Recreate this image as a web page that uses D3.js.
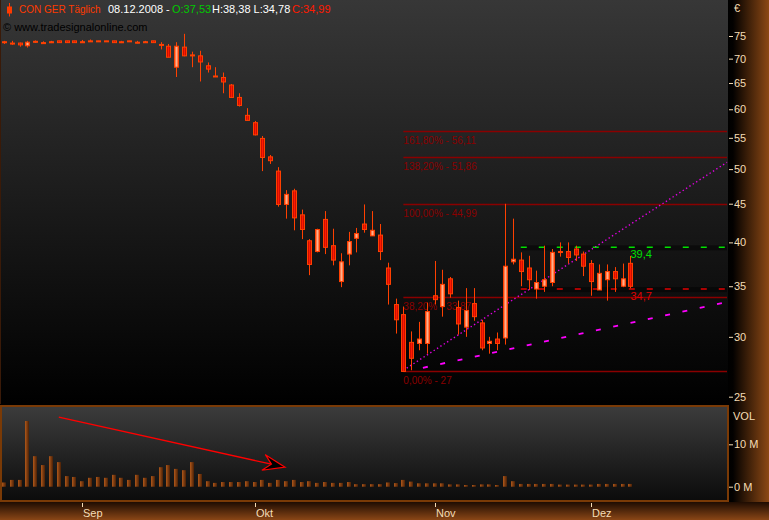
<!DOCTYPE html>
<html><head><meta charset="utf-8">
<script src="https://cdn.jsdelivr.net/npm/d3@7"></script>
<style>
html,body{margin:0;padding:0;background:#000;overflow:hidden}
svg{display:block}
text{font-family:"Liberation Sans",Arial,sans-serif}
</style>
</head><body>
<svg id="c" width="769" height="520"></svg>
<script>
// ---------------- DATA ----------------
const title = "CON GER Täglich";
const lastDate = "08.12.2008";
const open  = [73.7,73.4,73.4,72.8,73.7,73.5,73.6,73.9,73.9,73.9, 73.7,73.9,73.9,73.9,73.9,73.7,73.9,73.6,73.7,73.9,
               73.1,72.7,68.2,72.5,70.8,70.6,68.5,66.4,66.1,64.6, 62.2,58.9,57.6,54.9,51.9,49.7,44.9,46.8,43.5,40.2,
               38.9,42.9,39.6,35.5,38.6,40.5,42.3,40.8,40.9,37.0, 33.1,32.1,29.5,29.4,29.4,34.0,32.9,35.8,32.8,30.9,
               33.2,31.3,29.4,29.8,29.9,37.7,37.9,37.0,34.7,35.0, 35.4,38.8,38.9,39.2,38.6,37.5,34.6,35.7,36.6,35.0, 37.53];
const high  = [73.9,73.9,73.5,73.9,74.0,73.8,73.9,73.9,73.9,73.9, 74.1,74.2,73.9,73.9,73.9,73.9,73.9,73.9,73.9,73.9,
               73.6,73.2,73.6,75.5,71.5,71.7,69.2,68.2,67.1,64.8, 63.0,60.2,57.9,55.3,52.2,50.3,46.9,47.1,44.2,40.4,
               41.7,44.0,41.7,38.7,41.3,41.8,44.9,44.0,42.3,37.6, 33.7,32.9,30.5,31.4,33.3,37.8,36.8,36.0,33.5,34.8,
               34.8,31.6,30.0,30.4,44.99,43.0,38.8,38.4,36.7,39.6, 39.2,40.0,40.0,39.6,38.9,37.9,37.4,37.4,37.1,37.5, 38.38];
const low   = [73.2,73.0,72.6,72.4,73.5,73.3,73.4,73.5,73.5,73.5, 73.5,73.8,73.8,73.8,73.5,73.4,73.8,73.4,73.5,73.5,
               72.0,70.3,66.2,70.5,68.2,65.3,67.1,66.3,63.0,62.1, 60.5,58.0,55.4,49.7,50.8,44.6,43.0,41.5,40.4,36.2,
               38.8,38.6,37.3,34.9,37.3,38.8,41.2,40.8,37.9,33.1, 30.3,27.0,27.1,28.8,28.5,33.1,31.9,33.8,30.2,30.0,
               31.5,28.8,28.5,28.8,29.3,37.4,35.0,34.6,33.7,34.4, 35.0,38.3,37.5,37.8,36.1,34.0,34.6,33.5,34.4,34.9, 34.78];
const close = [73.6,73.3,73.0,73.6,73.8,73.5,73.7,73.5,73.5,73.5, 73.7,73.8,73.8,73.8,73.5,73.6,73.8,73.6,73.7,73.5,
               73.0,70.3,72.7,70.6,70.8,69.3,67.8,66.3,65.2,62.2, 60.7,58.0,55.5,51.8,51.3,44.9,46.3,43.1,41.6,37.4,
               41.6,39.4,37.9,37.7,40.1,41.1,41.6,41.5,38.9,35.2, 31.6,27.0,28.1,29.8,32.4,33.6,35.2,34.2,31.2,32.5,
               31.9,29.0,29.6,29.4,37.2,38.0,36.6,35.7,35.4,35.7, 38.8,38.9,38.2,38.5,37.2,35.5,36.4,36.6,35.8,35.8, 34.99];
// volume in millions
const volume = [1.0,1.6,1.6,15.5,7.2,5.1,7.2,5.8,2.5,2.3, 1.3,2.1,2.3,2.1,2.8,2.1,1.6,2.8,2.1,2.5,
                4.6,5.1,4.2,3.9,5.8,3.0,1.3,0.9,1.1,1.1, 1.1,1.3,1.1,1.6,0.9,1.6,1.3,1.6,1.1,1.3,
                0.9,1.1,0.9,0.9,1.1,0.6,0.6,0.6,0.6,1.0, 0.85,1.6,1.2,0.8,0.8,0.8,0.8,0.55,0.55,0.4,
                0.4,0.55,0.55,0.4,2.5,1.3,0.65,0.65,0.65,0.65, 0.65,0.5,0.5,0.5,0.5,0.5,0.65,0.65,0.65,0.65, 0.65];
const monthLabels = ["Sep","Okt","Nov","Dez"];
const monthStartIdx = [10,32,55,75];
const priceTicks = [25,30,35,40,45,50,55,60,65,70,75];
const volTicks = [0,10];
const volTickLabels = ["0 M","10 M"];
// Fibonacci retracement (from low bar 51 to high 44.99)
const fibPct = ["0,00%","38,20%","100,00%","138,20%","161,80%"];
const fibVal = [27, 33.87, 44.99, 51.86, 56.11];
const fibValLabel = ["27","33,87","44,99","51,86","56,11"];
const fibStartIdx = 51;
// horizontal levels
const levelVal = [39.4, 34.7];
const levelLabel = ["39,4","34,7"];
const levelStartIdx = 66;
// trend lines [index, price]
const dottedTrend = [[51, 27.1],[80, 42.26]];
const dashedTrend = [[53.5, 27.3],[80, 31.3]];
// volume arrow [index, volume M]
const volArrow = [[7.0, 16.4],[35.9, 4.6]];

// ---------------- LAYOUT ----------------
const W = 769, H = 520;
const plotRight = 727;
const svg = d3.select("#c");
const defs = svg.append("defs");
function lin(id, x1,y1,x2,y2, stops){
  const g = defs.append("linearGradient").attr("id",id)
    .attr("x1",x1).attr("y1",y1).attr("x2",x2).attr("y2",y2);
  stops.forEach(s=>g.append("stop").attr("offset",s[0]).attr("stop-color",s[1]));
}
lin("gMain",0,0,0,1,[[0,"#373737"],[0.55,"#181818"],[1,"#000"]]);
lin("gVol",0,0,0,1,[[0,"#3c3c3c"],[1,"#0b0b0b"]]);
lin("gAxis",0,0,1,0,[[0,"#000"],[0.12,"#030100"],[1,"#8c4814"]]);
lin("gBottom",0,0,0,1,[[0,"#1e0c02"],[1,"#8a4616"]]);
lin("gBear",0,0,1,0,[[0,"#a00000"],[0.5,"#ff1a00"],[1,"#a00000"]]);
lin("gBull",0,0,1,0,[[0,"#ff4a18"],[0.5,"#ffb08a"],[1,"#ff4a18"]]);
lin("gVbar",0,0,1,0,[[0,"#b0581a"],[1,"#4a2006"]]);

svg.append("rect").attr("width",W).attr("height",H).attr("fill","#000");
svg.append("rect").attr("x",0).attr("y",0).attr("width",728).attr("height",404).attr("fill","url(#gMain)");
svg.append("rect").attr("x",728).attr("y",0).attr("width",41).attr("height",502).attr("fill","url(#gAxis)");
svg.append("rect").attr("x",0).attr("y",502).attr("width",W).attr("height",18).attr("fill","url(#gBottom)");
svg.append("line").attr("x1",0.5).attr("x2",0.5).attr("y1",0).attr("y2",404).attr("stroke","#3a1a08");
svg.append("rect").attr("x",1).attr("y",406).attr("width",727).attr("height",95)
  .attr("fill","url(#gVol)").attr("stroke","#7a3a06").attr("stroke-width",2);

// scales
const x = d3.scaleLinear().domain([0,80]).range([4,630.4]);
const y = d3.scaleLog().domain([25,75]).range([396.7,36]);
const yv = d3.scaleLinear().domain([0,10]).range([486.7,444.3]);
const idx = d3.range(open.length);
const fmt = v => d3.format(".2f")(v).replace(".",",");

// ---------------- HEADER ----------------
const hdr = svg.append("g");
hdr.append("line").attr("x1",9.5).attr("x2",9.5).attr("y1",3).attr("y2",16.5).attr("stroke","#ff3a00");
hdr.append("rect").attr("x",7).attr("y",6.5).attr("width",5).attr("height",7).attr("fill","#ff3a00");
const hs = [
  {t:title, x:19, c:"#ff3a00", s:10},
  {t:lastDate+" -", x:108, c:"#ffffff", s:11},
  {t:"O:"+fmt(open[80]), x:172, c:"#00c800", s:11},
  {t:"H:"+fmt(high[80])+" L:"+fmt(low[80]), x:212, c:"#ffffff", s:11},
  {t:"C:"+fmt(close[80]), x:292, c:"#ff1a00", s:11}
];
hdr.selectAll("text").data(hs).join("text")
  .attr("x",d=>d.x).attr("y",13).attr("fill",d=>d.c).attr("font-size",d=>d.s).text(d=>d.t);
svg.append("text").attr("x",3).attr("y",30.5).attr("font-size",11).attr("fill","#000")
  .text("© www.tradesignalonline.com");

// ---------------- FIB LINES ----------------
const fib = svg.append("g");
fib.selectAll("line").data(fibVal).join("line")
  .attr("x1",x(fibStartIdx)).attr("x2",plotRight)
  .attr("y1",d=>Math.round(y(d))+0.5).attr("y2",d=>Math.round(y(d))+0.5)
  .attr("stroke","#8a0000").attr("stroke-width",1.3);
fib.selectAll("text").data(fibVal).join("text")
  .attr("x",x(fibStartIdx)).attr("y",d=>y(d)+13)
  .attr("font-size",10).attr("fill","#8a0000")
  .text((d,i)=>fibPct[i]+" - "+fibValLabel[i]);

// ---------------- LEVELS ----------------
const lvColors = ["#00e000","#e00000"];
const lv = svg.append("g");
levelVal.forEach((v,i)=>{
  lv.append("rect").attr("x",x(levelStartIdx)).attr("width",plotRight-x(levelStartIdx))
    .attr("y",y(v)-2).attr("height",5).attr("fill","#000").attr("opacity",0.45);
  lv.append("line").attr("x1",x(levelStartIdx)).attr("x2",plotRight)
    .attr("y1",y(v)).attr("y2",y(v)).attr("stroke",lvColors[i]).attr("stroke-width",1.5)
    .attr("stroke-dasharray","6,12");
  lv.append("text").attr("x",x(80)).attr("y",y(v)+11).attr("font-size",11)
    .attr("fill",lvColors[i]).text(levelLabel[i]);
});

// ---------------- TREND LINES ----------------
function extend(a,b){
  const x1=x(a[0]), y1=y(a[1]), x2=x(b[0]), y2=y(b[1]);
  const s=(y2-y1)/(x2-x1);
  return [x1,y1,plotRight,y1+s*(plotRight-x1)];
}
const dt = extend(dottedTrend[0],dottedTrend[1]);
svg.append("line").attr("x1",dt[0]).attr("y1",dt[1]).attr("x2",dt[2]).attr("y2",dt[3])
  .attr("stroke","#e000e0").attr("stroke-width",1.4).attr("stroke-dasharray","1.4,2.6");
const dd = extend(dashedTrend[0],dashedTrend[1]);
svg.append("line").attr("x1",dd[0]).attr("y1",dd[1]).attr("x2",dd[2]).attr("y2",dd[3])
  .attr("stroke","#ff00ff").attr("stroke-width",1.8).attr("stroke-dasharray","5,12.7");

// ---------------- CANDLES ----------------
const cg = svg.append("g");
cg.selectAll("line").data(idx).join("line")
  .attr("x1",i=>Math.round(x(i))+0.5).attr("x2",i=>Math.round(x(i))+0.5)
  .attr("y1",i=>y(high[i])).attr("y2",i=>y(low[i]))
  .attr("stroke","#ff4000").attr("stroke-width",1);
cg.selectAll("rect").data(idx).join("rect")
  .attr("x",i=>Math.round(x(i))-2+0.5).attr("width",4)
  .attr("y",i=>Math.min(y(open[i]),y(close[i])))
  .attr("height",i=>Math.max(1,Math.abs(y(open[i])-y(close[i]))))
  .attr("fill",i=>close[i]>=open[i]?"url(#gBull)":"url(#gBear)")
  .attr("stroke","#ff4000").attr("stroke-width",1);

// ---------------- VOLUME ----------------
svg.append("g").selectAll("rect").data(idx).join("rect")
  .attr("x",i=>Math.round(x(i))-2).attr("width",4)
  .attr("y",i=>yv(volume[i])).attr("height",i=>yv(0)-yv(volume[i]))
  .attr("fill","url(#gVbar)");
// arrow
{
  const x1=x(volArrow[0][0]), y1=yv(volArrow[0][1]), x2=x(volArrow[1][0]), y2=yv(volArrow[1][1]);
  const a=Math.atan2(y2-y1,x2-x1), c=Math.cos(a), s=Math.sin(a);
  const P=(u,v)=>[x2+u*c-v*s, y2+u*s+v*c];
  const notch=P(-14,0);
  svg.append("line").attr("x1",x1).attr("y1",y1).attr("x2",notch[0]).attr("y2",notch[1])
    .attr("stroke","#ff0000").attr("stroke-width",1.3);
  const head=[P(0,0),P(-22,-8),P(-14,0),P(-22,8)];
  svg.append("path").attr("d","M"+head.map(p=>p.join(",")).join("L")+"Z")
    .attr("fill","#000").attr("stroke","#ff0000").attr("stroke-width",1.2);
}

// ---------------- AXES ----------------
const axCol = "#f5dcb4";
const ya = svg.append("g").attr("transform","translate(729,0)")
  .call(d3.axisRight(y).tickValues(priceTicks).tickFormat(d3.format("d")).tickSize(4).tickPadding(1));
const va = svg.append("g").attr("transform","translate(729,0)")
  .call(d3.axisRight(yv).tickValues(volTicks).tickFormat((d,i)=>volTickLabels[i]).tickSize(4).tickPadding(1));
[ya,va].forEach(a=>{
  a.select(".domain").remove();
  a.selectAll("line").attr("stroke",axCol);
  a.selectAll("text").attr("fill",axCol).attr("font-size",11)
    .attr("font-family","'Liberation Sans',Arial,sans-serif");
});
svg.append("text").attr("x",734).attr("y",12).attr("font-size",11).attr("fill",axCol).text("€");
svg.append("text").attr("x",733).attr("y",420).attr("font-size",11).attr("fill",axCol).text("VOL");

const xa = svg.append("g");
xa.selectAll("line").data(monthStartIdx).join("line")
  .attr("x1",d=>Math.round(x(d))+0.5).attr("x2",d=>Math.round(x(d))+0.5)
  .attr("y1",503).attr("y2",507).attr("stroke",axCol);
xa.selectAll("text").data(monthStartIdx).join("text")
  .attr("x",d=>Math.round(x(d))+1).attr("y",516.5).attr("font-size",11).attr("fill",axCol)
  .text((d,i)=>monthLabels[i]);
</script>
</body></html>
